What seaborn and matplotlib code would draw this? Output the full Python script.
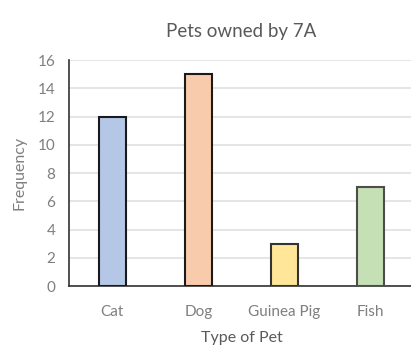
import matplotlib
matplotlib.use("Agg")
import matplotlib.pyplot as plt
import pandas as pd
import seaborn as sns

pets = ["Cat", "Dog", "Guinea Pig", "Fish"]
frequency = [12, 15, 3, 7]
bar_colors = ["#b4c7e7", "#f8cbad", "#ffe699", "#c5e0b4"]
edge_colors = ["#1a1a1a", "#1a1a1a", "#333333", "#4d4d4d"]
y_ticks = list(range(0, 17, 2))

sns.set_theme(style="white")
plt.rcParams["font.family"] = ["Lato", "DejaVu Sans"]

df = pd.DataFrame({"pet": pets, "frequency": frequency})

fig = plt.figure(figsize=(4.11, 3.54), dpi=100)
ax = fig.add_axes([0.168, 0.192, 0.839, 0.638])

sns.barplot(data=df, x="pet", y="frequency", hue="pet", palette=bar_colors,
            saturation=1, width=0.31, legend=False, ax=ax, zorder=3)
for bar, ec in zip(ax.patches, edge_colors):
    bar.set_edgecolor(ec)
    bar.set_linewidth(1.5)

ax.set_xlim(-0.5, 3.5)
ax.set_ylim(0, 16)
ax.set_yticks(y_ticks)
ax.yaxis.grid(True, color="#e0e0e0", linewidth=1.2, zorder=0)
ax.set_axisbelow(True)

for side in ["top", "right"]:
    ax.spines[side].set_visible(False)
ax.spines["left"].set_color("#333333")
ax.spines["bottom"].set_color("#333333")
ax.spines["left"].set_linewidth(1.2)
ax.spines["bottom"].set_linewidth(1.2)

ax.tick_params(axis="both", length=0, labelsize=11, labelcolor="#7f7f7f")
ax.tick_params(axis="x", pad=14)
ax.tick_params(axis="y", pad=10)

ax.set_title("Pets owned by 7A", fontsize=13.5, color="#595959", pad=17)
ax.set_xlabel("Type of Pet", fontsize=11.5, color="#595959", labelpad=8)
ax.set_ylabel("Frequency", fontsize=11.5, color="#7f7f7f", labelpad=8)

fig.savefig("out.png", dpi=100)
